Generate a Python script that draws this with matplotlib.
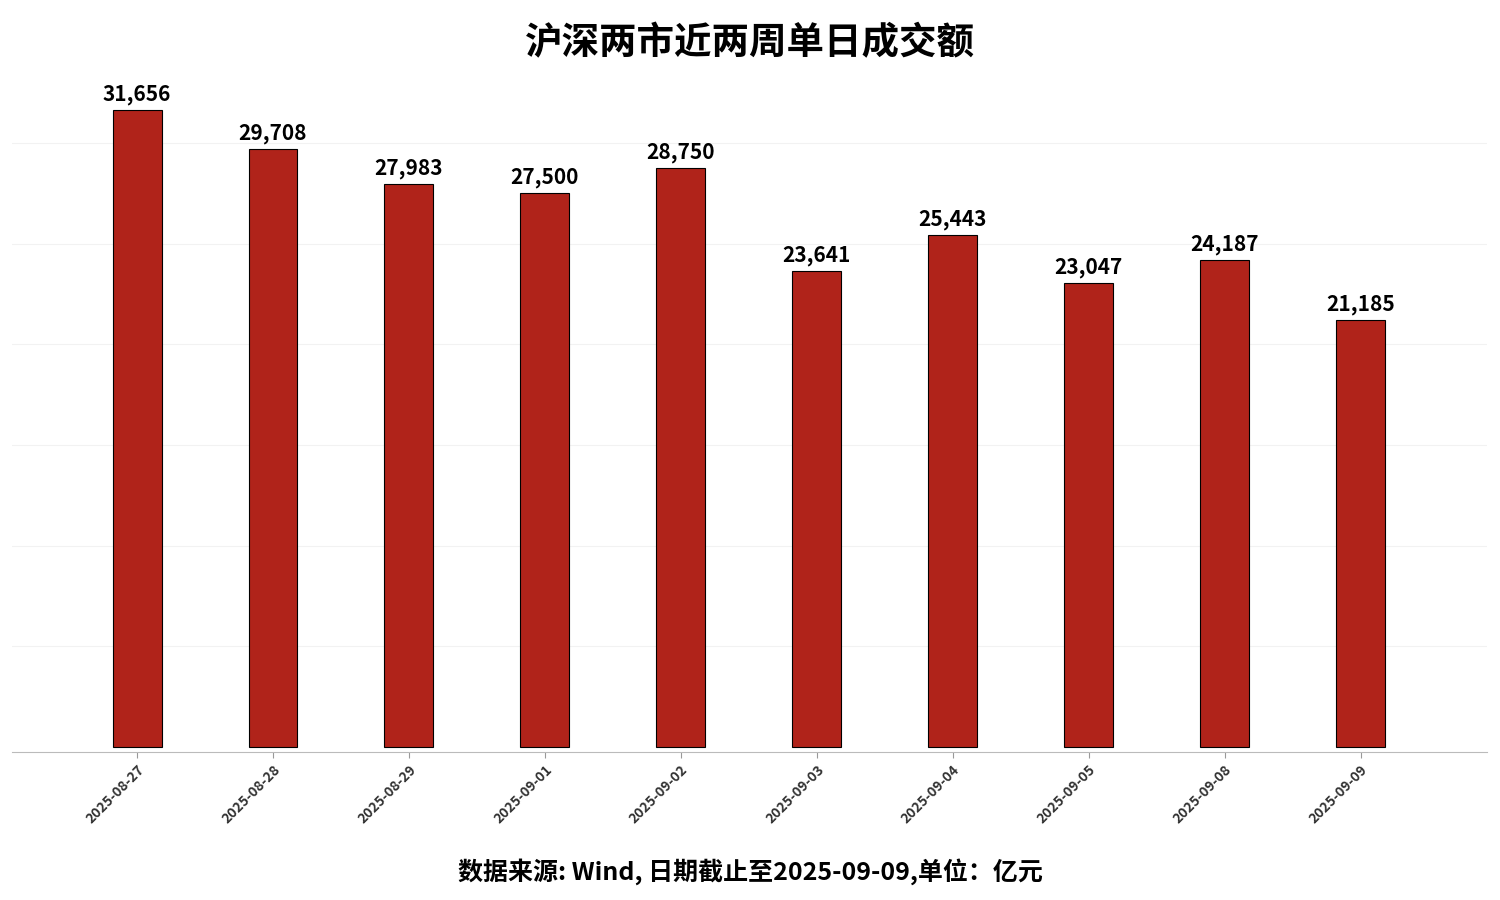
import matplotlib
matplotlib.use("Agg")
import matplotlib.pyplot as plt

dates = ["2025-08-27","2025-08-28","2025-08-29","2025-09-01","2025-09-02",
         "2025-09-03","2025-09-04","2025-09-05","2025-09-08","2025-09-09"]
values = [31656, 29708, 27983, 27500, 28750, 23641, 25443, 23047, 24187, 21185]

plt.rcParams['font.family'] = ['Noto Sans CJK SC', 'DejaVu Sans']
fig = plt.figure(figsize=(15, 9), dpi=100)
ax = fig.add_axes([12/1500, 148/900, 1475/1500, 750/900])
x = list(range(len(dates)))
ax.bar(x, values, width=0.36, color='#B0231A', edgecolor='black', linewidth=0.8, zorder=3)
for xi, v in zip(x, values):
    ax.text(xi, v + 250, f"{v:,}", ha='center', va='bottom', fontsize=15, fontweight='bold')
ax.set_xlim(-0.92, 9.93)
ax.set_ylim(-250, 37000)
ax.set_yticks([5000, 10000, 15000, 20000, 25000, 30000])
ax.tick_params(axis='y', length=0, labelleft=False)
ax.grid(axis='y', color='#f2f2f2', linewidth=0.8, zorder=0)
ax.set_xticks(x)
ax.set_xticklabels(dates, rotation=45, ha='right', rotation_mode='anchor', fontsize=10, fontweight='bold', color='#333333')
ax.tick_params(axis='x', length=4, color='#999999')
for s in ['top', 'right', 'left']:
    ax.spines[s].set_visible(False)
ax.spines['bottom'].set_color('#bbbbbb')
fig.text(0.5, 0.953, "沪深两市近两周单日成交额", ha='center', va='center', fontsize=27, fontweight='bold')
fig.text(0.5, 0.032, "数据来源: Wind, 日期截止至2025-09-09,单位：亿元", ha='center', va='center', fontsize=18, fontweight='bold')
fig.savefig("out.png")
